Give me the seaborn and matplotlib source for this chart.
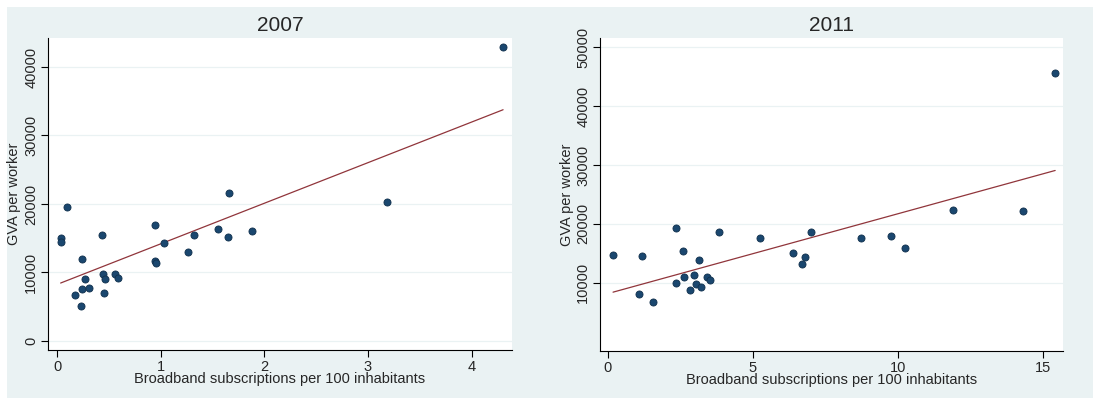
"""GVA per worker vs broadband subscriptions, 2007 and 2011."""

import matplotlib

matplotlib.use("Agg")
import matplotlib.pyplot as plt
import numpy as np
import pandas as pd
import seaborn as sns
from matplotlib.patches import Rectangle

BROADBAND_2007: list[float] = [
    0.035, 0.035, 0.093, 0.244, 0.267, 0.244, 0.312, 0.177, 0.231, 0.434,
    0.447, 0.466, 0.456, 0.563, 0.591, 0.948, 0.942, 0.951, 1.035, 1.263,
    1.324, 1.553, 1.646, 1.656, 1.880, 3.185, 4.304,
]
GVA_2007: list[float] = [
    15080, 14500, 19520, 11920, 9000, 7540, 7740, 6670, 5160, 15520,
    9780, 9000, 7060, 9730, 9250, 16980, 11730, 11430, 14310, 12990,
    15520, 16300, 15130, 21650, 16060, 20240, 42870,
]

BROADBAND_2011: list[float] = [
    0.19, 1.10, 1.19, 1.58, 2.35, 2.35, 2.60, 2.65, 2.84, 2.98,
    3.05, 3.14, 3.23, 3.42, 3.53, 3.84, 5.27, 6.40, 6.71, 6.81,
    7.03, 8.75, 9.76, 10.25, 11.90, 14.31, 15.43,
]
GVA_2011: list[float] = [
    14770, 8130, 14600, 6660, 19360, 10000, 15440, 10970, 8810, 11310,
    9780, 13910, 9220, 10920, 10410, 18570, 17600, 15000, 13130, 14320,
    18670, 17550, 17990, 15950, 22310, 22190, 45610,
]

YEARS: list[str] = ["2007", "2011"]
Y_TICKS_2007: list[int] = [0, 10000, 20000, 30000, 40000]
Y_TICKS_2011: list[int] = [10000, 20000, 30000, 40000, 50000]
X_TICKS_2007: list[int] = [0, 1, 2, 3, 4]
X_TICKS_2011: list[int] = [0, 5, 10, 15]

BACKGROUND = "#eaf2f3"
MARKER_COLOR = "#1a476f"
LINE_COLOR = "#90353b"

sns.set_style("white")
plt.rcParams["font.family"] = ["Liberation Sans", "DejaVu Sans"]


def draw_panel(ax, x, y, title, xticks, yticks, xlim, ylim) -> None:
    data = pd.DataFrame({"broadband": x, "gva": y})
    ax.set_facecolor("white")
    for tick in yticks:
        ax.axhline(tick, color=BACKGROUND, linewidth=0.9, zorder=0)
    sns.regplot(
        data=data,
        x="broadband",
        y="gva",
        ax=ax,
        ci=None,
        truncate=True,
        scatter_kws={"s": 26, "color": MARKER_COLOR, "edgecolor": "#10304c", "linewidths": 0.6, "alpha": 1, "zorder": 3},
        line_kws={"color": LINE_COLOR, "linewidth": 0.9, "zorder": 2},
    )
    ax.set_xlim(*xlim)
    ax.set_ylim(*ylim)
    ax.set_xticks(xticks)
    ax.set_yticks(yticks)
    ax.set_yticklabels([str(t) for t in yticks], rotation=90, va="center")
    ax.tick_params(axis="both", direction="out", length=5, width=0.8, color="black", labelsize=10.5, pad=2, left=True, bottom=True)
    ax.set_title(title, fontsize=15, pad=5)
    ax.set_xlabel("Broadband subscriptions per 100 inhabitants", fontsize=10.5, labelpad=-1)
    ax.set_ylabel("GVA per worker", fontsize=10.5, labelpad=2)
    for side in ("top", "right"):
        ax.spines[side].set_visible(False)
    for side in ("left", "bottom"):
        ax.spines[side].set_color("black")
        ax.spines[side].set_linewidth(0.8)


def main() -> None:
    fig = plt.figure(figsize=(10.93, 3.98), dpi=100, facecolor="white")
    fig.patches.append(
        Rectangle((7 / 1093, 0), 1 - 7 / 1093, 1 - 7 / 398, transform=fig.transFigure, facecolor=BACKGROUND, edgecolor="none", zorder=-1)
    )

    ax_left = fig.add_axes((48 / 1093, 48 / 398, 464 / 1093, 312 / 398))
    ax_right = fig.add_axes((600 / 1093, 47 / 398, 463 / 1093, 313 / 398))

    draw_panel(ax_left, BROADBAND_2007, GVA_2007, YEARS[0], X_TICKS_2007, Y_TICKS_2007, (-0.087, 4.39), (-1314, 44230))
    draw_panel(ax_right, BROADBAND_2011, GVA_2011, YEARS[1], X_TICKS_2011, Y_TICKS_2011, (-0.26, 15.7), (-1616, 51600))

    fig.savefig("out.png", dpi=100, facecolor=fig.get_facecolor())


if __name__ == "__main__":
    main()
